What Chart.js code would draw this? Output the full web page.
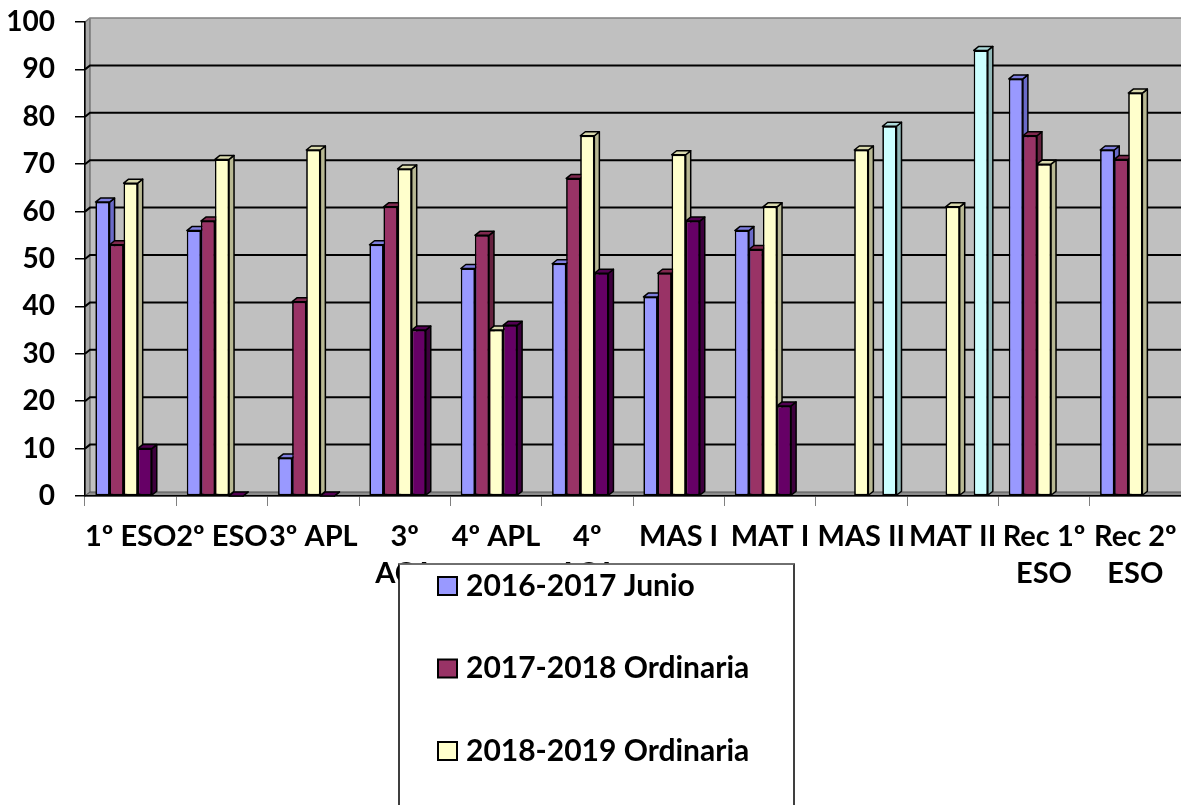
<!DOCTYPE html>
<html>
<head>
<meta charset="utf-8">
<script src="https://cdn.jsdelivr.net/npm/chart.js@4"></script>
<style>
  html, body { margin: 0; padding: 0; background: #fff; }
  #wrap { width: 1181px; height: 805px; position: relative; }
</style>
</head>
<body>
<div id="wrap"><canvas id="resultsChart"></canvas></div>
<script>
const categories = [
  "1º ESO", "2º ESO", "3º APL", ["3º", "ACA"], "4º APL", ["4º", "ACA"],
  "MAS I", "MAT I", "MAS II", "MAT II", ["Rec 1º", "ESO"], ["Rec 2º", "ESO"]
];
const seriesNames = [
  "2016-2017 Junio",
  "2017-2018 Ordinaria",
  "2018-2019 Ordinaria",
  "2018-2019 Extraordinaria",
  "2018-2019 EvAU"
];
const junio1617 = [62, 56, 8, 53, 48, 49, 42, 56, null, null, 88, 73];
const ord1718   = [53, 58, 41, 61, 55, 67, 47, 52, null, null, 76, 71];
const ord1819   = [66, 71, 73, 69, 35, 76, 72, 61, 73, 61, 70, 85];
const extra1819 = [10, 0, 0, 35, 36, 47, 58, 19, null, null, null, null];
const evau1819  = [null, null, null, null, null, null, null, null, 78, 94, null, null];
const yTicks = [0, 10, 20, 30, 40, 50, 60, 70, 80, 90, 100];

const fronts = ["#9999FF", "#993366", "#FFFFCC", "#660066", "#CCFFFF"];
const sides  = ["#6A6AC8", "#66223F", "#B8B893", "#3D003D", "#92B8B8"];
const tops   = ["#7F7FE0", "#80294F", "#DADAAE", "#520052", "#ADDADA"];

const DX = 5, DY = -4;
const FONT = "Lato";

// gray back wall, side wall, floor and gridlines in pseudo 3D
const wallPlugin = {
  id: "wall",
  beforeDraw(chart) {
    const { ctx, chartArea: a, scales } = chart;
    const y = scales.y;
    ctx.save();
    ctx.fillStyle = "#C0C0C0";
    ctx.fillRect(a.left + DX, a.top + DY, a.right - a.left, a.bottom - a.top);
    // left side wall
    ctx.fillStyle = "#A8A8A8";
    ctx.beginPath();
    ctx.moveTo(a.left, a.bottom);
    ctx.lineTo(a.left, a.top);
    ctx.lineTo(a.left + DX, a.top + DY);
    ctx.lineTo(a.left + DX, a.bottom + DY);
    ctx.closePath();
    ctx.fill();
    ctx.strokeStyle = "#555";
    ctx.lineWidth = 1;
    ctx.stroke();
    // floor
    ctx.fillStyle = "#8C8C8C";
    ctx.beginPath();
    ctx.moveTo(a.left, a.bottom);
    ctx.lineTo(a.right, a.bottom);
    ctx.lineTo(a.right + DX, a.bottom + DY);
    ctx.lineTo(a.left + DX, a.bottom + DY);
    ctx.closePath();
    ctx.fill();
    ctx.stroke();
    // gridlines on the back wall
    yTicks.forEach(v => {
      if (v === 0) return;
      const py = y.getPixelForValue(v);
      ctx.beginPath();
      ctx.moveTo(a.left, py);
      ctx.lineTo(a.left + DX, py + DY);
      ctx.lineTo(a.right + DX, py + DY);
      ctx.strokeStyle = v === 100 ? "#808080" : "#000";
      ctx.lineWidth = v === 100 ? 1.5 : 2;
      ctx.stroke();
    });
    ctx.restore();
  }
};

// redraw bars left to right, each with its right side and top face
const bar3dPlugin = {
  id: "bar3d",
  afterDatasetsDraw(chart) {
    const { ctx } = chart;
    const n = chart.data.datasets.length;
    ctx.save();
    categories.forEach((c, j) => {
      for (let i = 0; i < n; i++) {
        const ds = chart.data.datasets[i];
        if (ds.data[j] == null) continue;
        const el = chart.getDatasetMeta(i).data[j];
        el.draw(ctx);
        const p = el.getProps(["x", "y", "base", "width"], true);
        const l = p.x - p.width / 2, r = p.x + p.width / 2;
        ctx.lineWidth = 1.5;
        ctx.strokeStyle = "#000";
        ctx.lineJoin = "round";
        ctx.beginPath();
        ctx.moveTo(r, p.y);
        ctx.lineTo(r + DX, p.y + DY);
        ctx.lineTo(r + DX, p.base + DY);
        ctx.lineTo(r, p.base);
        ctx.closePath();
        ctx.fillStyle = sides[i];
        ctx.fill();
        ctx.stroke();
        ctx.beginPath();
        ctx.moveTo(l, p.y);
        ctx.lineTo(l + DX, p.y + DY);
        ctx.lineTo(r + DX, p.y + DY);
        ctx.lineTo(r, p.y);
        ctx.closePath();
        ctx.fillStyle = tops[i];
        ctx.fill();
        ctx.stroke();
      }
    });
    ctx.restore();
  }
};

// boxed legend sitting over the axis labels (as in the original sheet)
const boxLegendPlugin = {
  id: "boxLegend",
  afterDraw(chart) {
    const { ctx } = chart;
    const bx = 399, by = 564, bw = 395, bh = 260;
    ctx.save();
    ctx.fillStyle = "#fff";
    ctx.fillRect(bx, by, bw, bh);
    ctx.strokeStyle = "#000";
    ctx.lineWidth = 1.5;
    ctx.strokeRect(bx, by, bw, bh);
    ctx.strokeStyle = "#808080";
    ctx.beginPath();
    ctx.moveTo(bx, by);
    ctx.lineTo(bx + bw, by);
    ctx.stroke();
    ctx.font = "bold 30px " + FONT;
    ctx.textBaseline = "middle";
    ctx.textAlign = "left";
    chart.data.datasets.forEach((ds, i) => {
      const cy = 586 + i * 82.5;
      ctx.fillStyle = fronts[i];
      ctx.fillRect(438, cy - 9, 19, 18);
      ctx.strokeStyle = "#000";
      ctx.lineWidth = 2;
      ctx.strokeRect(438, cy - 9, 19, 18);
      ctx.fillStyle = "#000";
      ctx.fillText(ds.label, 466, cy);
    });
    ctx.restore();
  }
};

const seriesData = [junio1617, ord1718, ord1819, extra1819, evau1819];

new Chart(document.getElementById("resultsChart"), {
  type: "bar",
  data: {
    labels: categories,
    datasets: seriesData.map((d, i) => ({
      label: seriesNames[i],
      data: d,
      backgroundColor: fronts[i],
      borderColor: "#000",
      borderWidth: 1.5,
      borderSkipped: false,
      categoryPercentage: 0.77,
      barPercentage: 1.0
    }))
  },
  options: {
    responsive: true,
    maintainAspectRatio: false,
    animation: false,
    events: [],
    layout: { padding: { top: 22, right: 0, bottom: 0, left: 0 } },
    plugins: {
      legend: { display: false },
      tooltip: { enabled: false }
    },
    scales: {
      x: {
        offset: true,
        grid: { offset: true, drawOnChartArea: false, tickLength: 10, color: "#808080" },
        border: { display: true, color: "#000", width: 1.5 },
        ticks: {
          autoSkip: false, maxRotation: 0, minRotation: 0, padding: 12,
          color: "#000",
          font: { family: FONT, weight: "bold", size: 29, lineHeight: 1.27 }
        },
        afterFit(scale) {
          scale.height = 309;
          scale.paddingLeft = 0;
          scale.paddingRight = 0;
        }
      },
      y: {
        min: 0, max: 100,
        afterBuildTicks(scale) { scale.ticks = yTicks.map(v => ({ value: v })); },
        grid: { drawOnChartArea: false, tickLength: 10, color: "#000", lineWidth: 1.5 },
        border: { display: true, color: "#000", width: 1.5 },
        ticks: {
          padding: 20, color: "#000",
          font: { family: FONT, weight: "bold", size: 28 }
        },
        afterFit(scale) {
          scale.width = 85;
          scale.paddingTop = 0;
          scale.paddingBottom = 0;
        }
      }
    }
  },
  plugins: [wallPlugin, bar3dPlugin, boxLegendPlugin]
});
</script>
</body>
</html>
